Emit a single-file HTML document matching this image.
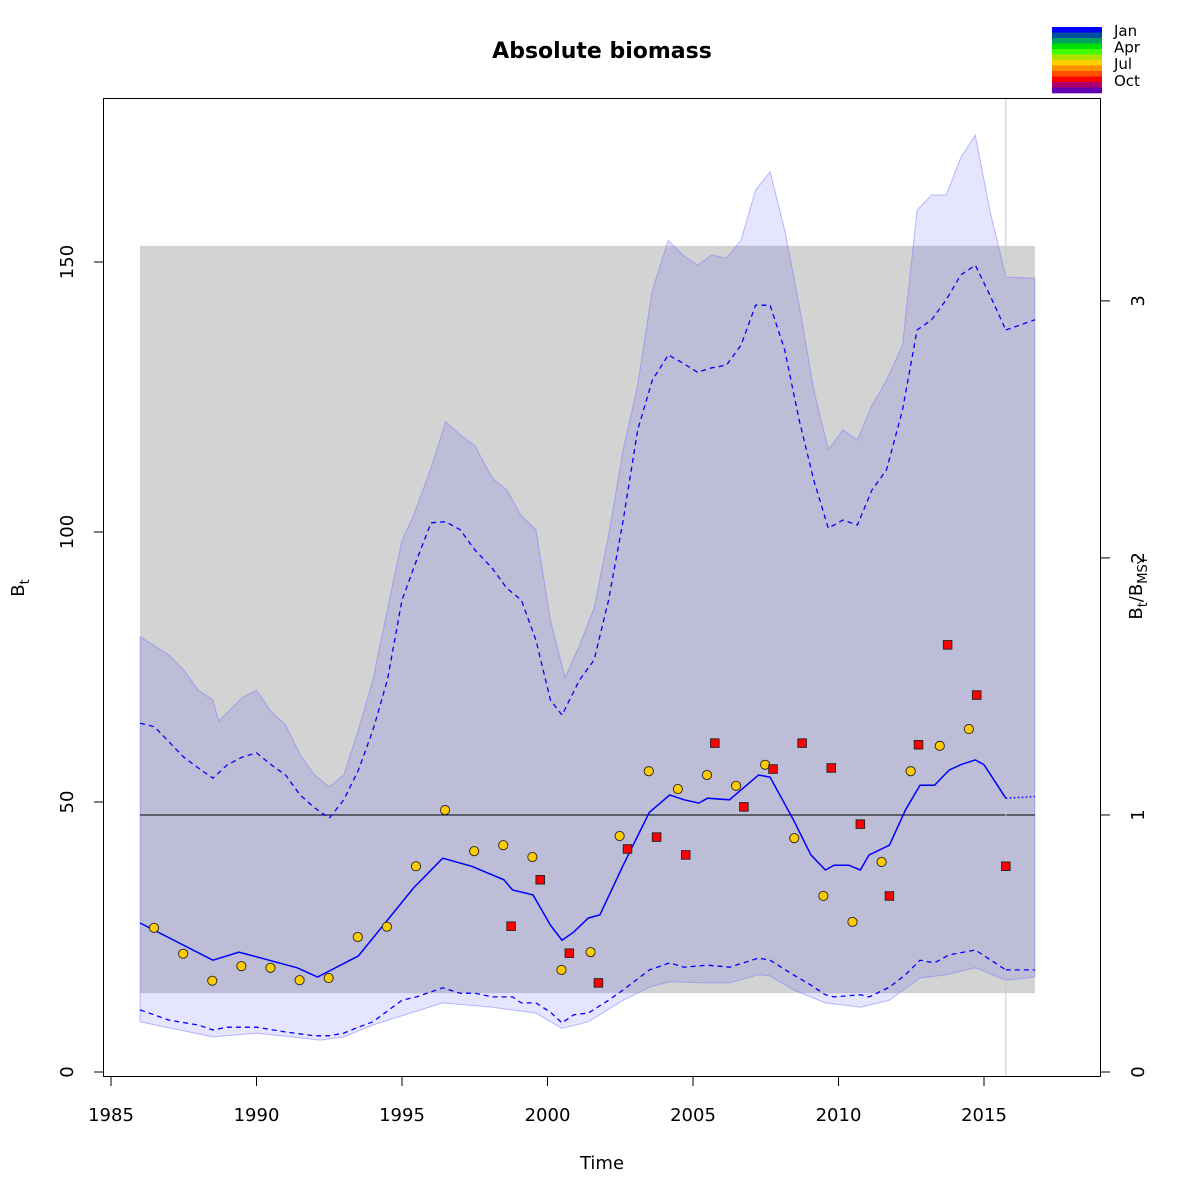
<!DOCTYPE html>
<html><head><meta charset="utf-8"><style>
html,body{margin:0;padding:0;background:#fff}
svg{display:block;font-family:"DejaVu Sans","Liberation Sans",sans-serif}
</style></head><body>
<svg id="chart" width="1200" height="1200" viewBox="0 0 1200 1200">
<text x="602" y="58" text-anchor="middle" font-size="22" font-weight="bold">Absolute biomass</text>
<g id="plot"></g>
</svg>
<script>
// ---- data ----
const upperOuterYears=[1986,1987,1987.5,1988,1988.5,1988.7,1989.5,1990,1990.5,1991,1991.5,1992,1992.5,1993,1993.5,1994,1994.5,1995,1995.4,1996,1996.5,1997,1997.5,1998.1,1998.6,1999.1,1999.6,2000.1,2000.6,2001.1,2001.6,2002.1,2002.6,2003.1,2003.6,2004.15,2004.65,2005.15,2005.65,2006.15,2006.65,2007.15,2007.65,2008.15,2008.65,2009.15,2009.65,2010.15,2010.65,2011.15,2011.65,2012.2,2012.7,2013.2,2013.7,2014.2,2014.7,2015.2,2015.75,2016.75];
const upperOuter=[80.6,77.2,74.4,70.7,68.9,65,69.3,70.7,66.7,64.3,58.7,55,52.8,55,63.3,72.6,85.6,98.5,103,111.9,120.4,118,116,110,107.8,103,100.4,83.7,73,79,85.9,99.4,115.2,127.2,144.8,154,151.3,149.4,151.3,150.7,154,163.3,166.7,155.9,142,126.3,115.2,118.9,117,123.5,128.1,134.6,159.6,162.4,162.4,169.3,173.5,159.6,147.2,147];
const upperDashYears=[1986,1986.5,1987,1987.5,1988,1988.5,1989,1989.5,1990,1990.5,1991,1991.5,1992,1992.5,1993,1993.5,1994,1994.5,1995,1995.5,1996,1996.5,1997,1997.5,1998.1,1998.6,1999.1,1999.6,2000.1,2000.5,2001.1,2001.6,2002.1,2002.6,2003.1,2003.6,2004.15,2004.65,2005.15,2005.65,2006.15,2006.65,2007.15,2007.65,2008.15,2008.65,2009.15,2009.65,2010.15,2010.65,2011.15,2011.65,2012.2,2012.7,2013.2,2013.7,2014.2,2014.7,2015.2,2015.75];
const upperDash=[64.6,63.9,61.1,58.3,56.3,54.4,56.9,58.3,59.1,56.9,55,51.3,48.9,47,50.4,55.9,63.3,72.6,87.4,94.8,101.7,101.9,100.4,96.7,93.3,89.6,87.4,80,68.9,66.1,72.6,76.3,87.4,102.2,118.9,128.1,132.8,131.3,129.6,130.4,130.9,134.6,142,142,133.7,120.7,109.6,100.7,102.2,101.3,107.8,111.5,122.6,137.4,139.3,143,147.6,149.4,143.9,137.4];
const medianYears=[1986,1988.5,1989.4,1991.4,1992.1,1993.5,1995.4,1996.4,1997.4,1998.5,1998.8,1999.5,2000.1,2000.5,2000.9,2001.4,2001.8,2002.6,2003.5,2004.2,2004.7,2005.2,2005.5,2006.25,2007.25,2007.65,2008.45,2009.05,2009.55,2009.85,2010.35,2010.75,2011.05,2011.75,2012.3,2012.8,2013.3,2013.8,2014.2,2014.7,2015.0,2015.75];
const median=[27.6,20.7,22.2,19.3,17.6,21.5,34.1,39.6,38.1,35.6,33.7,32.8,27.2,24.4,25.9,28.5,29.1,38.3,48.1,51.3,50.4,49.8,50.7,50.4,55,54.6,46.7,40.2,37.4,38.3,38.3,37.4,40.2,42,48.5,53.1,53.1,55.9,56.9,57.8,56.9,50.7];
const projYears=[2015.75,2016.75];
const projMedian=[50.7,51];
const projUpper=[137.4,139.3];
const projLower=[18.9,18.9];
const lowerDashYears=[1986,1987,1988,1988.5,1989,1990,1991,1992,1992.5,1993,1993.5,1994,1995,1995.5,1996.4,1997,1997.5,1998.1,1998.8,1999.1,1999.6,2000.1,2000.5,2000.9,2001.4,2002.1,2002.6,2003.5,2004.2,2004.7,2005.5,2006.25,2007.25,2007.65,2008.45,2009.05,2009.55,2009.85,2010.75,2011.05,2011.75,2012.3,2012.8,2013.3,2013.8,2014.7,2015.75];
const lowerDash=[11.5,9.6,8.7,7.8,8.3,8.3,7.4,6.7,6.7,7.2,8.3,9.3,13.3,13.9,15.6,14.6,14.6,13.9,13.9,12.8,12.8,11.1,9.1,10.6,10.9,13.3,15.2,18.9,20.2,19.4,19.8,19.4,21.1,20.7,18,16.1,14.3,13.9,14.3,13.9,15.7,18,20.7,20.2,21.7,22.6,18.9];
const lowerOuterYears=[1986,1988.5,1990,1992.2,1993,1994,1995.4,1996.4,1998.1,1999.6,2000.5,2001.4,2002.6,2003.5,2004.2,2005.5,2006.25,2007.25,2007.65,2008.45,2009.55,2010.15,2010.75,2011.75,2012.8,2013.7,2014.7,2015.75,2016.75];
const lowerOuter=[9.3,6.5,7.2,5.9,6.5,8.7,11.1,12.8,12,10.9,8.1,9.3,13.3,15.7,16.7,16.5,16.5,18,17.8,15.2,12.8,12.4,12,13.3,17.4,18,19.3,17,17.6];
const obsCircleYears=[1986.48,1987.48,1988.48,1989.48,1990.48,1991.48,1992.48,1993.48,1994.48,1995.48,1996.48,1997.48,1998.48,1999.48,2000.48,2001.48,2002.48,2003.48,2004.48,2005.48,2006.48,2007.48,2008.48,2009.48,2010.48,2011.48,2012.48,2013.48,2014.48];
const obsCircle=[26.7,21.9,16.9,19.6,19.3,17,17.4,25,26.9,38.1,48.5,40.9,42,39.8,18.9,22.2,43.7,55.7,52.4,55,53,56.9,43.3,32.6,27.8,38.9,55.7,60.4,63.5];
const obsSquareYears=[1998.75,1999.75,2000.75,2001.75,2002.75,2003.75,2004.75,2005.75,2006.75,2007.75,2008.75,2009.75,2010.75,2011.75,2012.75,2013.75,2014.75,2015.75];
const obsSquare=[27,35.6,22,16.5,41.3,43.5,40.2,60.9,49.1,56.1,60.9,56.3,45.9,32.6,60.6,79.1,69.8,38.1];
const bmsy=47.6;
const bmsyLower=14.6, bmsyUpper=153;
const xTicks=[1985,1990,1995,2000,2005,2010,2015];
const yTicks=[0,50,100,150];
const rTicks=[0,1,2,3];
const legendLabels=["Jan","Apr","Jul","Oct"];
const legendColors=["#0000ff","#0050a0","#00a060","#00e000","#40ff00","#b0e000","#ffd000","#ff9000","#ff5000","#ff0000","#b00070","#6000b0"];

// ---- axes ----
const X=t=>111+(t-1985)*29.1;
const Y=v=>1072-v*5.4;
const NS="http://www.w3.org/2000/svg";
const g=document.getElementById('plot');
function mk(tag,attrs,parent){const e=document.createElementNS(NS,tag);for(const k in attrs)e.setAttribute(k,attrs[k]);(parent||g).appendChild(e);return e;}
function pts(xs,ys){return xs.map((t,i)=>X(t).toFixed(1)+','+Y(ys[i]).toFixed(1)).join(' ');}

let r=mk('rect',{x:X(1986),y:Y(bmsyUpper),width:X(2016.75)-X(1986),height:Y(bmsyLower)-Y(bmsyUpper),fill:'#d3d3d3'});



let band=mk('polygon',{points:pts(upperOuterYears,upperOuter)+' '+pts(lowerOuterYears.slice().reverse(),lowerOuter.slice().reverse()),fill:'rgba(0,0,255,0.1)',stroke:'rgba(120,120,255,0.5)','stroke-width':1});



let hl=mk('line',{x1:X(1986),x2:X(2016.75),y1:Y(bmsy),y2:Y(bmsy),stroke:'#000','stroke-width':1});



let vl=mk('line',{x1:X(2015.75),x2:X(2015.75),y1:98,y2:1077,stroke:'#c8c8c8','stroke-width':1});



let ud=mk('polyline',{points:pts(upperDashYears,upperDash),fill:'none',stroke:'#0000ff','stroke-width':1.3,'stroke-dasharray':'5,4'});


let ld=mk('polyline',{points:pts(lowerDashYears,lowerDash),fill:'none',stroke:'#0000ff','stroke-width':1.3,'stroke-dasharray':'5,4'});


let pu=mk('polyline',{points:pts(projYears,projUpper),fill:'none',stroke:'#0000ff','stroke-width':1.3,'stroke-dasharray':'5,4'});


let pl=mk('polyline',{points:pts(projYears,projLower),fill:'none',stroke:'#0000ff','stroke-width':1.3,'stroke-dasharray':'5,4'});


let md=mk('polyline',{points:pts(medianYears,median),fill:'none',stroke:'#0000ff','stroke-width':1.5});


let pm=mk('polyline',{points:pts(projYears,projMedian),fill:'none',stroke:'#0000ff','stroke-width':1.5,'stroke-dasharray':'1.5,2.5'});



obsCircleYears.forEach((t,i)=>{
  const c=mk('circle',{cx:X(t),cy:Y(obsCircle[i]),r:4.6,fill:'#ffcc00',stroke:'#222','stroke-width':0.9});
  
  
});
obsSquareYears.forEach((t,i)=>{
  const s=mk('rect',{x:X(t)-4.3,y:Y(obsSquare[i])-4.3,width:8.6,height:8.6,fill:'#ff0000',stroke:'#222','stroke-width':0.9});
  
  
});

let box=mk('rect',{x:103.5,y:98.5,width:997,height:978,fill:'none',stroke:'#000','stroke-width':1});



xTicks.forEach(t=>{
  const l=mk('line',{x1:X(t),x2:X(t),y1:1077,y2:1086,stroke:'#000'});
  
  
  const tx=mk('text',{x:X(t),y:1121,'text-anchor':'middle','font-size':18});
  tx.textContent=t;
  
  
});
yTicks.forEach(v=>{
  const l=mk('line',{x1:94,x2:103.5,y1:Y(v),y2:Y(v),stroke:'#000'});
  
  
  const tx=mk('text',{x:73,y:Y(v),'text-anchor':'middle','font-size':18,transform:`rotate(-90 73 ${Y(v)})`});
  tx.textContent=v;
  
  
});
rTicks.forEach(v=>{
  const yy=Y(v*bmsy);
  const l=mk('line',{x1:1100.5,x2:1110,y1:yy,y2:yy,stroke:'#000'});
  
  
  const tx=mk('text',{x:1144,y:yy,'text-anchor':'middle','font-size':18,transform:`rotate(-90 1144 ${yy})`});
  tx.textContent=v;
  
  
});

let xt=mk('text',{x:602,y:1169,'text-anchor':'middle','font-size':18});
xt.textContent='Time';


let yt=mk('text',{x:24,y:588,'text-anchor':'middle','font-size':18,transform:'rotate(-90 24 588)'});
yt.innerHTML='B<tspan font-size="13" dy="5">t</tspan>';


let rt=mk('text',{x:1142,y:588,'text-anchor':'middle','font-size':18,transform:'rotate(-90 1142 588)'});
rt.innerHTML='B<tspan font-size="13" dy="5">t</tspan><tspan dy="-5">/B</tspan><tspan font-size="13" dy="5">MSY</tspan>';



const lh=66/legendColors.length;
legendColors.forEach((c,i)=>{
  const s=mk('rect',{x:1052,y:27+i*lh,width:50,height:lh+0.3,fill:c});
  
  
});
legendLabels.forEach((lab,i)=>{
  const tx=mk('text',{x:1114,y:36+i*16.6,'font-size':15});
  tx.textContent=lab;
  
  
});
</script>
</body></html>
